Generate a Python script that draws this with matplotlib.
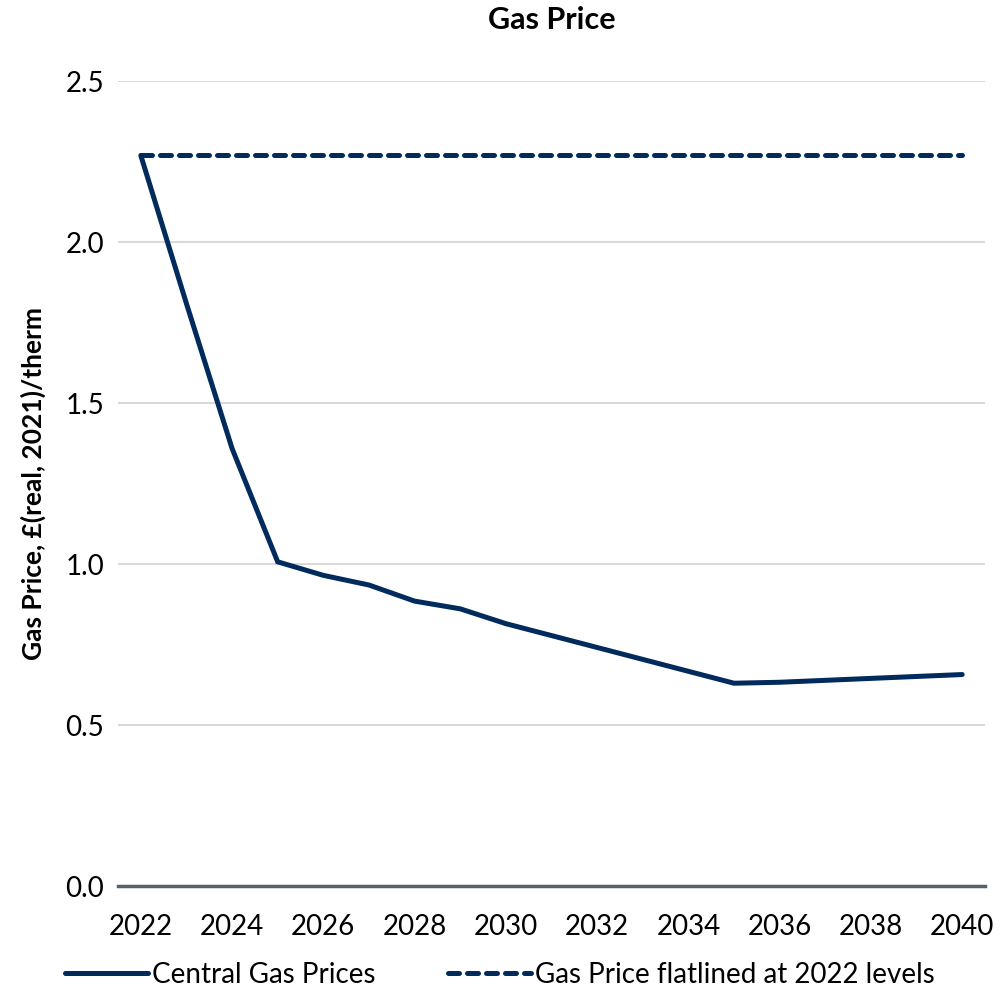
import matplotlib.pyplot as plt

plt.rcParams['font.family'] = ['Lato', 'DejaVu Sans']

years = list(range(2022, 2041))
central = [2.27, 1.81, 1.36, 1.008, 0.966, 0.936, 0.886, 0.862, 0.816,
           0.779, 0.742, 0.705, 0.668, 0.631, 0.634, 0.640, 0.646, 0.652, 0.658]
flat_2022 = [2.27] * len(years)

navy = '#002B5C'

fig = plt.figure(figsize=(10, 10.05), dpi=100)
ax = fig.add_axes([0.118, 0.118, 0.867, 0.801])

ax.plot(years, central, color=navy, lw=3.6, solid_capstyle='round',
        solid_joinstyle='miter', label='Central Gas Prices')
ax.plot(years, flat_2022, color=navy, lw=3.6, dashes=(2.2, 1.6),
        dash_capstyle='round', label='Gas Price flatlined at 2022 levels')

ax.set_xlim(2021.5, 2040.5)
ax.set_ylim(0, 2.5)
ax.set_xticks(range(2022, 2041, 2))
ax.set_yticks([0, 0.5, 1.0, 1.5, 2.0, 2.5])
ax.set_yticklabels(['0.0', '0.5', '1.0', '1.5', '2.0', '2.5'])
ax.tick_params(length=0, labelsize=20, pad=10)
ax.tick_params(axis='x', pad=20)

ax.grid(axis='y', color='#D9D9D9', lw=1.5)
ax.set_axisbelow(True)
for s in ['top', 'right', 'left']:
    ax.spines[s].set_visible(False)
ax.spines['bottom'].set_color('#56626A')
ax.spines['bottom'].set_linewidth(2.5)

ax.set_title('Gas Price', fontsize=22, fontweight='bold', pad=38)
ax.set_ylabel('Gas Price, £(real, 2021)/therm', fontsize=19, fontweight='bold', labelpad=14)

fig.legend(loc='lower center', bbox_to_anchor=(0.5, -0.008), ncol=2, frameon=False,
           fontsize=20, handlelength=3.0, handletextpad=0.15, columnspacing=2.6)

fig.savefig('out.png', dpi=100, facecolor='white')
